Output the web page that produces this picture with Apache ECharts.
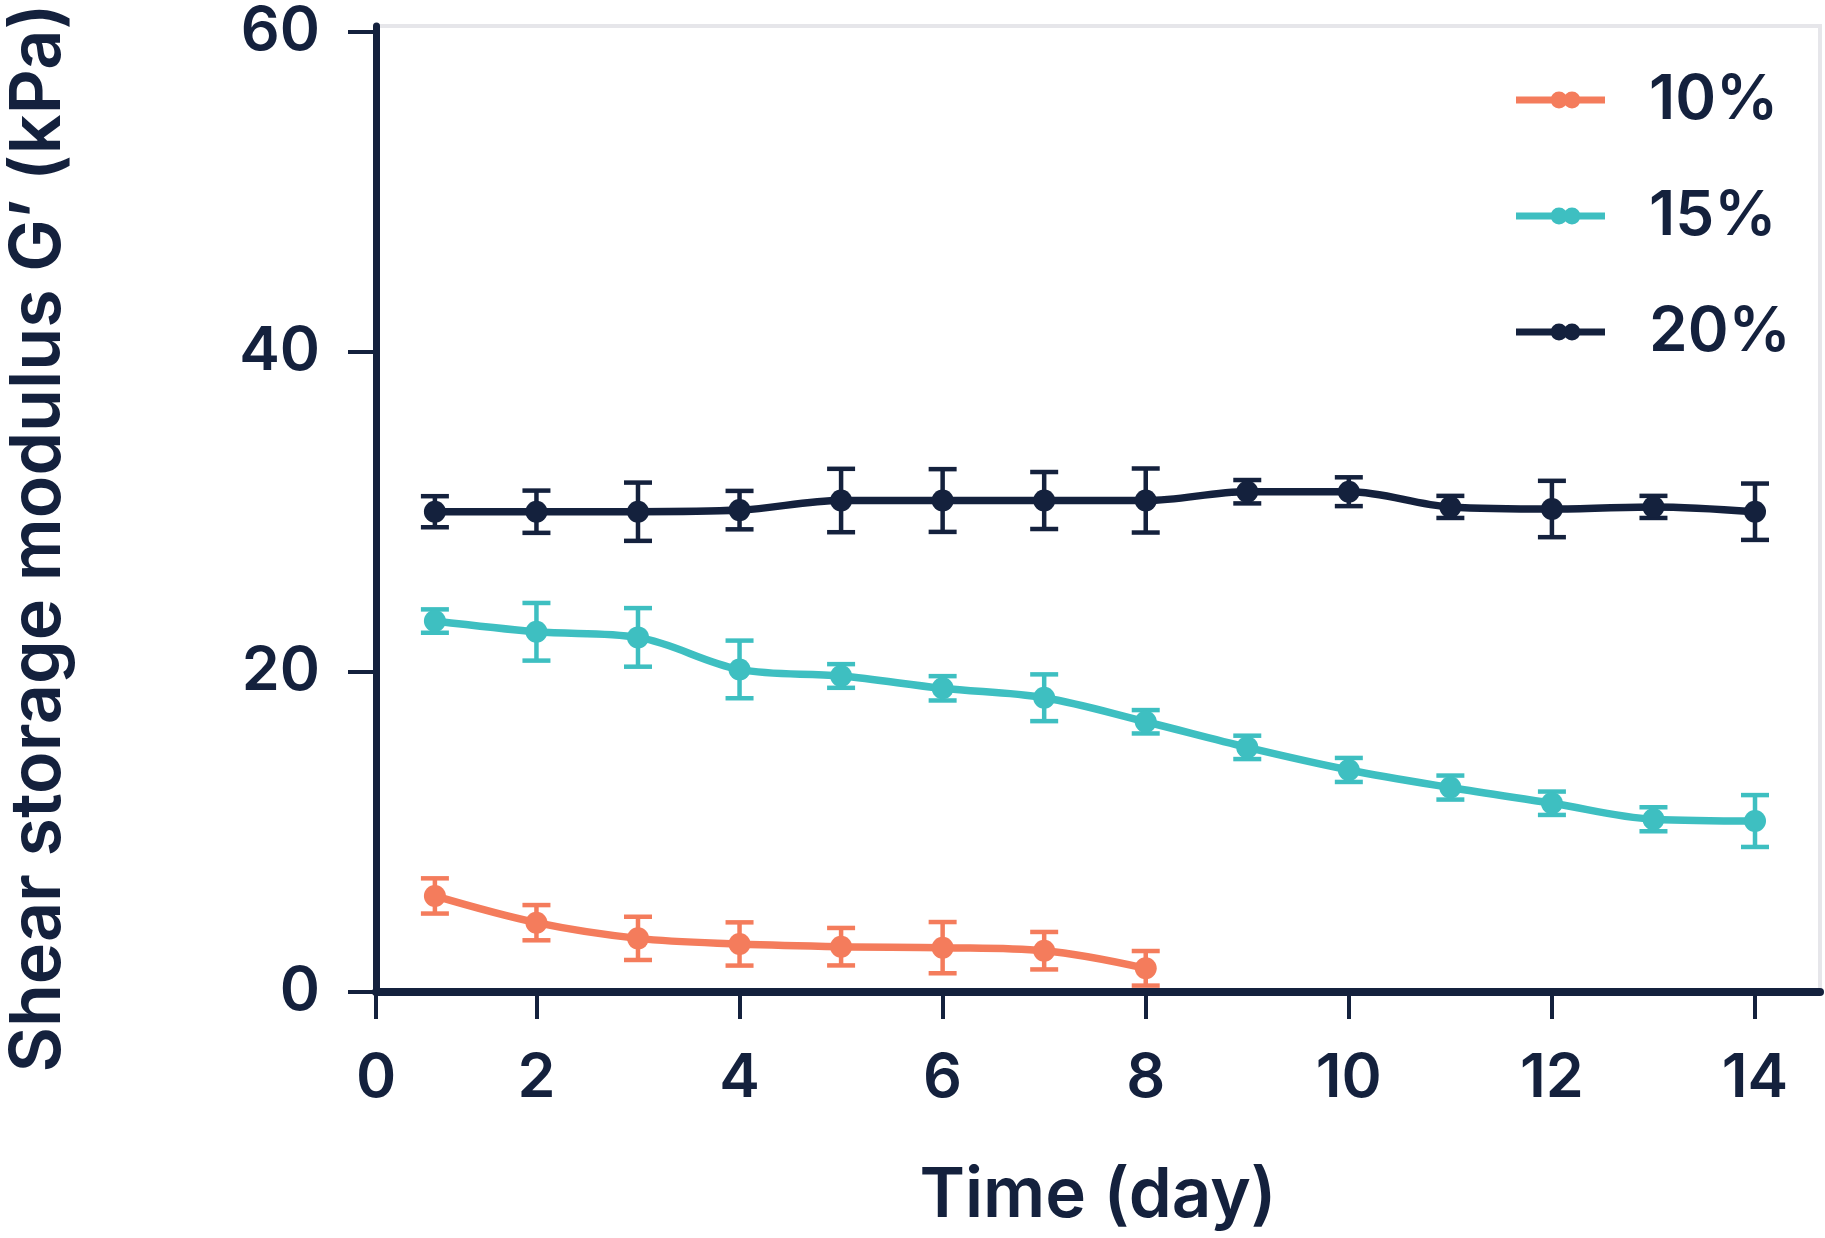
<!DOCTYPE html>
<html>
<head>
<meta charset="utf-8">
<script src="https://cdn.jsdelivr.net/npm/echarts@6/dist/echarts.min.js"></script>
<style>
  html, body { margin: 0; padding: 0; background: #fff; }
  #main { width: 1825px; height: 1238px; }
</style>
</head>
<body>
<div id="main"></div>
<script>
const days = [1, 2, 3, 4, 5, 6, 7, 8, 9, 10, 11, 12, 13, 14]

// 10% only measured up to day 8
const mean10 = [6.0, 4.33, 3.35, 3.0, 2.83, 2.77, 2.58, 1.48]
const sd10 = [1.1, 1.1, 1.35, 1.35, 1.17, 1.6, 1.17, 1.08]

const mean15 = [23.17, 22.5, 22.15, 20.15, 19.74, 18.97, 18.38, 16.88, 15.28, 13.87, 12.77, 11.79, 10.79, 10.68]
const sd15 = [0.73, 1.8, 1.83, 1.8, 0.74, 0.76, 1.46, 0.73, 0.73, 0.75, 0.75, 0.73, 0.75, 1.62]

const mean20 = [30.0, 30.0, 30.0, 30.1, 30.7, 30.7, 30.7, 30.7, 31.25, 31.25, 30.3, 30.17, 30.3, 30.0]
const sd20 = [0.97, 1.32, 1.82, 1.2, 1.98, 1.96, 1.78, 2.0, 0.73, 0.9, 0.69, 1.76, 0.69, 1.76]

const xTicks = [0, 2, 4, 6, 8, 10, 12, 14]
const yTicks = [0, 20, 40, 60]

const NAVY = '#14213d'
const TEAL = '#3ebfc1'
const CORAL = '#f47c5c'
const FONT = 'Inter'

// origin of the x axis sits a bit right of day 0, labelled "0" as in the source plot
const X_MIN = 0.42
const X_MAX = 14.64
const Y_MAX = 60.34
const xTickValues = xTicks.map((v) => (v === 0 ? X_MIN : v))

const LEGEND_ICON =
  'path://M0,5H89V12H0Z' +
  'M34.5,8.5a8.5,8.5 0 1,1 17,0a8.5,8.5 0 1,1 -17,0Z' +
  'M47.5,8.5a8.5,8.5 0 1,1 17,0a8.5,8.5 0 1,1 -17,0Z'

function pairs(means) {
  return means.map((m, i) => [days[i], m])
}
function bars(means, sds) {
  return means.map((m, i) => [days[i], m - sds[i], m + sds[i]])
}

function errorBar(color) {
  return function (params, api) {
    const x = api.value(0)
    const lo = api.coord([x, api.value(1)])
    const hi = api.coord([x, api.value(2)])
    const w = 14
    const style = { stroke: color, lineWidth: 4.5 }
    return {
      type: 'group',
      children: [
        { type: 'line', shape: { x1: hi[0], y1: hi[1], x2: lo[0], y2: lo[1] }, style },
        { type: 'line', shape: { x1: hi[0] - w, y1: hi[1], x2: hi[0] + w, y2: hi[1] }, style },
        { type: 'line', shape: { x1: lo[0] - w, y1: lo[1], x2: lo[0] + w, y2: lo[1] }, style },
      ],
    }
  }
}

function lineSeries(name, color, means) {
  return {
    name,
    type: 'line',
    data: pairs(means),
    color,
    smooth: 0.35,
    symbol: 'circle',
    symbolSize: 22,
    itemStyle: { color },
    lineStyle: { color, width: 7.5 },
    z: 3,
  }
}

function errSeries(name, color, means, sds) {
  return {
    name,
    type: 'custom',
    data: bars(means, sds),
    encode: { x: 0, y: [1, 2] },
    renderItem: errorBar(color),
    z: 2,
  }
}

const chart = echarts.init(document.getElementById('main'))

const option = {
  animation: false,
  grid: {
    left: 376,
    right: 5,
    top: 26,
    bottom: 246,
    outerBoundsMode: 'none',
    containLabel: false,
    show: true,
    borderColor: '#e6e6ea',
    borderWidth: 4,
  },
  legend: {
    orient: 'vertical',
    left: 1511,
    top: 64,
    itemWidth: 89,
    itemHeight: 17,
    itemGap: 54,
    icon: LEGEND_ICON,
    data: ['10%', '15%', '20%'],
    textStyle: {
      fontSize: 62,
      lineHeight: 62,
      fontFamily: FONT,
      fontWeight: 600,
      color: NAVY,
      padding: [0, 0, 0, 39],
    },
  },
  xAxis: {
    type: 'value',
    min: X_MIN,
    max: X_MAX,
    name: 'Time (day)',
    nameLocation: 'middle',
    nameGap: 170,
    nameTextStyle: { fontSize: 69, fontFamily: FONT, fontWeight: 600, color: NAVY },
    axisLine: { onZero: false, lineStyle: { color: NAVY, width: 8 } },
    axisTick: { length: 27, customValues: xTickValues, lineStyle: { color: NAVY, width: 4 } },
    axisLabel: {
      customValues: xTickValues,
      formatter: (v) => (v < 1 ? '0' : String(v)),
      fontSize: 61,
      fontFamily: FONT,
      fontWeight: 600,
      color: NAVY,
      margin: 56,
    },
    splitLine: { show: false },
  },
  yAxis: {
    type: 'value',
    min: 0,
    max: Y_MAX,
    name: 'Shear storage modulus G’ (kPa)',
    nameLocation: 'middle',
    nameGap: 302,
    nameTextStyle: {
      fontSize: 70,
      fontFamily: FONT,
      fontWeight: 600,
      color: NAVY,
      padding: [0, 58, 0, 0],
    },
    axisLine: { onZero: false, lineStyle: { color: NAVY, width: 7 } },
    axisTick: { length: 28, customValues: yTicks, lineStyle: { color: NAVY, width: 4 } },
    axisLabel: {
      customValues: yTicks,
      fontSize: 61,
      fontFamily: FONT,
      fontWeight: 600,
      color: NAVY,
      margin: 56,
    },
    splitLine: { show: false },
  },
  series: [
    errSeries('20% SD', NAVY, mean20, sd20),
    errSeries('15% SD', TEAL, mean15, sd15),
    errSeries('10% SD', CORAL, mean10, sd10),
    lineSeries('20%', NAVY, mean20),
    lineSeries('15%', TEAL, mean15),
    lineSeries('10%', CORAL, mean10),
  ],
}

chart.setOption(option)
</script>
</body>
</html>
